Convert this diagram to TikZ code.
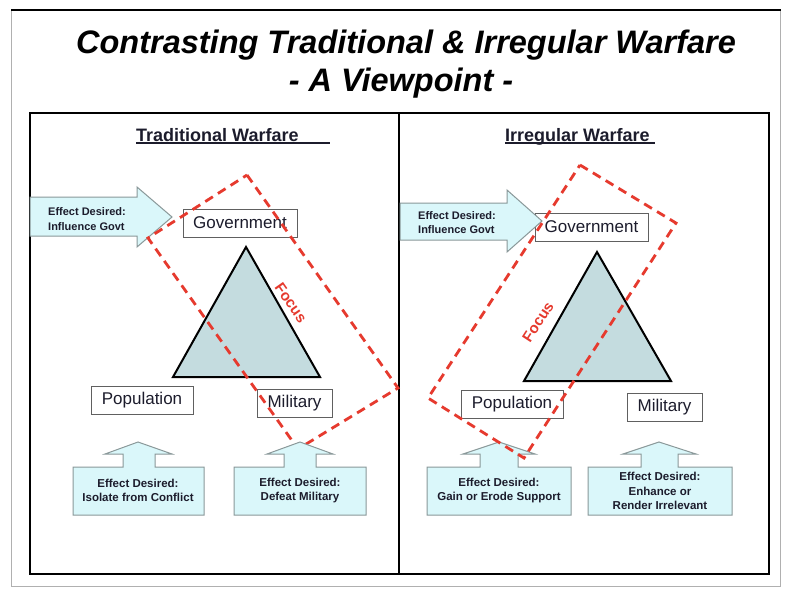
\documentclass[tikz,border=0pt]{standalone}
\usepackage{fontspec}
\setmainfont{Liberation Sans}
\definecolor{ink}{HTML}{1C1C2C}
\definecolor{boxgray}{HTML}{606060}
\definecolor{arrowgray}{HTML}{8A9899}
\definecolor{arrowfill}{HTML}{DAF7FA}
\definecolor{trifill}{HTML}{C4DCDF}
\definecolor{focusred}{HTML}{E63A2E}
\definecolor{slideedge}{HTML}{B0B0B0}
\tikzset{
  panelline/.style={draw=black, line width=2.5pt},
  edgeline/.style={draw=slideedge, line width=1pt},
  lbl/.style={draw=boxgray, fill=white, line width=1pt, minimum height=28pt,
    inner sep=0pt, font=\fontsize{17}{20}\selectfont, text=ink},
  callout/.style={draw=arrowgray, fill=arrowfill, line width=1pt, line join=miter},
  calltext/.style={font=\bfseries\fontsize{11.5}{14.5}\selectfont, align=center, text=ink, inner sep=0pt},
  sidetext/.style={font=\bfseries\fontsize{11}{14.5}\selectfont, align=left, text=ink, inner sep=0pt},
  focusbox/.style={draw=focusred, line width=2.8pt, dash pattern=on 9pt off 6pt, line join=miter},
  focustext/.style={text=focusred, font=\bfseries\fontsize{15}{18}\selectfont, inner sep=0pt},
  tri/.style={draw=black, fill=trifill, line width=2pt, line join=miter},
  hdr/.style={font=\bfseries\fontsize{18}{21}\selectfont, text=ink, inner sep=0pt, anchor=base west},
  uline/.style={draw=ink, line width=1.2pt},
}
\begin{document}
\begin{tikzpicture}[x=1pt, y=-1pt]
\useasboundingbox (0,0) rectangle (786,598);
\fill[white] (0,0) rectangle (786,598);

% slide edges
\draw[edgeline] (11,10) -- (11,586) -- (780,586) -- (780,10);
\draw[draw=black, line width=2.5pt] (11,10) -- (781,10);

% title
\node[font=\bfseries\itshape\fontsize{32.5}{38}\selectfont, inner sep=0pt] (title1) at (406,45) {Contrasting Traditional \& Irregular Warfare};
\node[font=\bfseries\itshape\fontsize{32.5}{38}\selectfont, inner sep=0pt] (title2) at (401,83) {- A Viewpoint -};

% panels
\draw[panelline] (30,113) rectangle (769,574);
\draw[panelline] (399,113) -- (399,574);

% ---------- traditional warfare ----------
\node[hdr] (hdrL) at (136,141) {Traditional Warfare};
\draw[uline] (136,143) -- (330,143);

\draw[callout] (30,197) -- (137,197) -- (137,187) -- (172,217) -- (137,247) -- (137,236) -- (30,236) -- cycle;
\node[sidetext, anchor=west] (effL) at (48,219) {Effect Desired:\\Influence Govt};

\node[lbl, minimum width=114pt] (govL) at (240,223) {Government};
\node[lbl, minimum width=102pt] (popL) at (142,400) {Population};
\node[lbl, minimum width=75pt] (milL) at (294.5,403) {Military};

\draw[tri] (246,247) -- (320,377) -- (173,377) -- cycle;

\draw[focusbox] (247,175) -- (398,388) -- (298,449) -- (148,238) -- cycle;
\node[focustext, rotate=-55] (focL) at (291,303) {Focus};

\draw[callout] (73,515) -- (73,467) -- (123,467) -- (123,454) -- (105,454) -- (138,442) -- (172,454) -- (155,454) -- (155,467) -- (204,467) -- (204,515) -- cycle;
\node[calltext] (isoL) at (138,490.5) {Effect Desired:\\Isolate from Conflict};

\draw[callout] (234,515) -- (234,467) -- (284,467) -- (284,454) -- (267,454) -- (300,442) -- (333,454) -- (316,454) -- (316,467) -- (366,467) -- (366,515) -- cycle;
\node[calltext] (defL) at (300,490.5) {Effect Desired:\\Defeat Military};

% ---------- irregular warfare ----------
\node[hdr] (hdrR) at (505,141) {Irregular Warfare};
\draw[uline] (505,143) -- (655,143);

\node[lbl, minimum width=113pt] (govR) at (591.5,227) {Government};
\node[lbl, minimum width=102pt] (popR) at (512,404) {Population};
\node[lbl, minimum width=75pt] (milR) at (664.5,407) {Military};

\draw[callout] (400,203) -- (507,203) -- (507,190) -- (542,221) -- (507,252) -- (507,240) -- (400,240) -- cycle;
\node[sidetext, anchor=west] (effR) at (418,222.5) {Effect Desired:\\Influence Govt};

\draw[tri] (597,252) -- (671,381) -- (524,381) -- cycle;

\draw[callout] (427,515) -- (427,467) -- (480,467) -- (480,454) -- (463,454) -- (499,442) -- (535,454) -- (518,454) -- (518,467) -- (571,467) -- (571,515) -- cycle;
\node[calltext] (gainR) at (499,490.5) {Effect Desired:\\Gain or Erode Support};

\draw[callout] (588,515) -- (588,467) -- (641,467) -- (641,454) -- (623,454) -- (659,442) -- (696,454) -- (678,454) -- (678,467) -- (732,467) -- (732,515) -- cycle;
\node[calltext] (enhR) at (660,491) {Effect Desired:\\Enhance or\\Render Irrelevant};

\draw[focusbox] (580,165) -- (676,223) -- (524,458) -- (428,398) -- cycle;
\node[focustext, rotate=57] (focR) at (538,322) {Focus};
\end{tikzpicture}
\end{document}
